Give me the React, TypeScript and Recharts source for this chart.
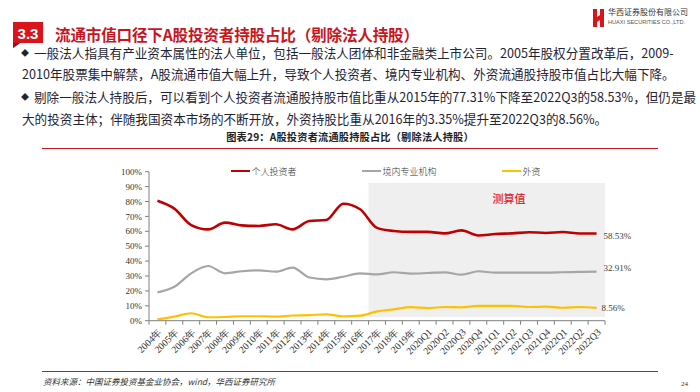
import React from 'react';
import { LineChart, Line, XAxis, YAxis, ReferenceArea, Legend } from 'recharts';

const categories = [
  '2004年', '2005年', '2006年', '2007年', '2008年', '2009年', '2010年', '2011年',
  '2012年', '2013年', '2014年', '2015年', '2016年', '2017年', '2018年', '2019年',
  '2020Q1', '2020Q2', '2020Q3', '2020Q4', '2021Q1', '2021Q2', '2021Q3', '2021Q4',
  '2022Q1', '2022Q2', '2022Q3',
];
const individualInvestors = [
  80.5, 75.2, 64.2, 61.3, 65.8, 64.0, 63.6, 64.7, 61.3, 66.9, 67.6, 78.5, 74.8,
  62.3, 60.2, 59.6, 59.6, 58.6, 60.6, 57.2, 58.2, 58.6, 59.4, 58.9, 59.5, 58.5, 58.53,
];
const domesticInstitutions = [
  19.0, 22.8, 31.8, 36.7, 31.8, 33.2, 33.8, 32.9, 35.6, 29.0, 27.8, 29.5, 31.8,
  31.1, 32.5, 31.6, 32.0, 32.5, 30.9, 33.2, 32.2, 32.2, 32.2, 32.2, 32.5, 32.8, 32.91,
];
const foreignCapital = [
  0.9, 2.7, 5.0, 2.3, 2.5, 3.0, 3.0, 2.7, 3.5, 3.7, 4.3, 2.9, 3.35,
  6.3, 7.6, 9.1, 8.5, 9.2, 9.0, 10.0, 10.0, 9.9, 9.2, 9.4, 8.7, 9.2, 8.56,
];
const seriesNames = ['个人投资者', '境内专业机构', '外资'];
const yTicks = [0, 10, 20, 30, 40, 50, 60, 70, 80, 90, 100];
const estimateStart = '2017年';
const estimateEnd = '2022Q3';
const estimateLabel = '测算值';

const data = categories.map((name, i) => ({
  name,
  individual: individualInvestors[i],
  domestic: domesticInstitutions[i],
  foreign: foreignCapital[i],
}));

const RED = '#c00000';
const GRAY = '#a6a6a6';
const GOLD = '#ffc000';
const AXIS = '#808080';
const SERIF = '"Liberation Serif", "Times New Roman", serif';
const CJK = '"Noto Sans CJK SC", "Noto Sans", sans-serif';
const TEXT = '#1f2433';

const CHART_W = 560;
const CHART_H = 230;
const MARGIN = { top: 21.7, right: 55, bottom: 19.3, left: 0 };
const Y_AXIS_W = 49;
const BAND = (CHART_W - MARGIN.left - MARGIN.right - Y_AXIS_W) / categories.length;

const XTick = (props: any) => {
  const { x, y, payload, index } = props;
  const isLast = index === categories.length - 1;
  const ax = x + 5;
  const ay = y + 12;
  return (
    <g>
      <line x1={x - BAND / 2} x2={x - BAND / 2} y1={y} y2={y + 4} stroke={AXIS} />
      {isLast && <line x1={x + BAND / 2} x2={x + BAND / 2} y1={y} y2={y + 4} stroke={AXIS} />}
      <text
        x={ax}
        y={ay}
        transform={`rotate(-45 ${ax} ${ay})`}
        textAnchor="end"
        fontSize={9.8}
        fontFamily={SERIF}
        fill="#333"
      >
        {payload.value}
      </text>
    </g>
  );
};

const makeEndLabel = (dx: number, dy: number) => (props: any) => {
  const { x, y, index, value } = props;
  if (index !== categories.length - 1) return null;
  return (
    <text x={x + dx} y={y + dy} fontSize={9} fontFamily={SERIF} fill="#404040">
      {`${Number(value).toFixed(2)}%`}
    </text>
  );
};

const LegendContent = (props: any) => {
  const { payload } = props;
  return (
    <div style={{ display: 'flex', gap: 65, alignItems: 'center' }}>
      {(payload || []).map((p: any) => (
        <div key={p.value} style={{ display: 'flex', alignItems: 'center' }}>
          <span style={{ display: 'inline-block', width: 19, height: 2.5, background: p.color, marginRight: 2 }} />
          <span style={{ fontSize: 9, fontFamily: CJK, color: '#333', fontWeight: 300 }}>{p.value}</span>
        </div>
      ))}
    </div>
  );
};

const EstimateLabel = (props: any) => {
  const vb = props.viewBox || {};
  return (
    <text
      x={vb.x + vb.width * 0.594}
      y={vb.y + 20}
      textAnchor="middle"
      fontSize={11}
      fontFamily={CJK}
      fontWeight={500}
      fill="#e0262b"
    >
      {estimateLabel}
    </text>
  );
};

export default function App() {
  return (
    <div
      style={{
        position: 'absolute',
        top: 0,
        left: 0,
        width: 700,
        height: 392,
        background: '#fff',
        overflow: 'hidden',
        fontFamily: CJK,
      }}
    >
      {/* section badge */}
      <svg style={{ position: 'absolute', left: 0, top: 0 }} width={60} height={60}>
        <polygon points="13,22 43,22 43,43 20,43 13,48" fill="#d9141b" />
        <polygon points="13,43 20,43 13,48" fill="#9c0e12" />
        <text x={28} y={38.5} textAnchor="middle" fontSize={15} fontWeight={700} fill="#fff" fontFamily='"Liberation Sans", Arial, sans-serif'>3.3</text>
      </svg>
      <div
        style={{
          position: 'absolute', left: 55, top: 23, fontSize: 15.6, fontWeight: 700,
          color: '#c9151e', whiteSpace: 'nowrap', lineHeight: '22px', letterSpacing: -0.2,
        }}
      >
        流通市值口径下A股投资者持股占比（剔除法人持股）
      </div>

      {/* logo */}
      <svg style={{ position: 'absolute', left: 590, top: 6 }} width={16} height={24}>
        <polygon points="3,3 7,3 7,11 10,9 10,3 14,3 14,21 10,21 10,14 7,16 7,21 3,21" fill="#d9141b" />
      </svg>
      <div style={{ position: 'absolute', left: 608, top: 7, fontSize: 8, color: '#333', whiteSpace: 'nowrap', lineHeight: '10px', fontFamily: CJK }}>
        华西证券股份有限公司
      </div>
      <div style={{ position: 'absolute', left: 608, top: 18, fontSize: 5.6, color: '#555', whiteSpace: 'nowrap', lineHeight: '8px', fontFamily: '"Liberation Sans", Arial, sans-serif' }}>
        HUAXI SECURITIES CO.,LTD.
      </div>

      {/* bullets */}
      {[
        { top: 44, left: 34, bullet: true, text: '一般法人指具有产业资本属性的法人单位，包括一般法人团体和非金融类上市公司。2005年股权分置改革后，2009-' },
        { top: 65, left: 22, bullet: false, text: '2010年股票集中解禁，A股流通市值大幅上升，导致个人投资者、境内专业机构、外资流通股持股市值占比大幅下降。' },
        { top: 88, left: 34, bullet: true, text: '剔除一般法人持股后，可以看到个人投资者流通股持股市值比重从2015年的77.31%下降至2022Q3的58.53%，但仍是最' },
        { top: 110, left: 22, bullet: false, text: '大的投资主体；伴随我国资本市场的不断开放，外资持股比重从2016年的3.35%提升至2022Q3的8.56%。' },
      ].map((l, i) => (
        <React.Fragment key={i}>
          {l.bullet && (
            <div style={{ position: 'absolute', left: 21, top: l.top, fontSize: 8, lineHeight: '18px', color: TEXT }}>◆</div>
          )}
          <div style={{ position: 'absolute', left: l.left, top: l.top, fontSize: 12.6, lineHeight: '18px', color: TEXT, whiteSpace: 'nowrap' }}>
            {l.text}
          </div>
        </React.Fragment>
      ))}

      {/* chart title */}
      <div
        style={{
          position: 'absolute', left: 42, width: 616, top: 130, textAlign: 'center', fontSize: 10.2,
          fontWeight: 700, color: '#222', whiteSpace: 'nowrap', lineHeight: '14px', letterSpacing: 0.2,
        }}
      >
        图表29：A股投资者流通股持股占比（剔除法人持股）
      </div>
      <div style={{ position: 'absolute', left: 42, width: 616, top: 147.5, height: 1.5, background: '#c8161d' }} />

      {/* chart */}
      <div style={{ position: 'absolute', left: 100, top: 150 }}>
        <LineChart width={CHART_W} height={CHART_H} data={data} margin={MARGIN}>
          <ReferenceArea
            xAxisId="cat"
            yAxisId="y"
            x1={estimateStart}
            x2={estimateEnd}
            y1={2.5}
            y2={92.5}
            fill="#efefef"
            fillOpacity={1}
            stroke="none"
            label={<EstimateLabel />}
            ifOverflow="visible"
          />
          <XAxis
            xAxisId="cat"
            dataKey="name"
            scale="band"
            interval={0}
            tickLine={false}
            tickSize={0}
            tickMargin={0}
            axisLine={{ stroke: AXIS }}
            tick={<XTick />}
            height={40}
          />
          <YAxis
            yAxisId="y"
            domain={[0, 100]}
            ticks={yTicks}
            tickFormatter={(v: number) => `${v}%`}
            width={Y_AXIS_W}
            tickSize={4}
            tickMargin={3}
            axisLine={{ stroke: AXIS }}
            tickLine={{ stroke: AXIS }}
            tick={{ fontSize: 9, fontFamily: SERIF, fill: '#333' }}
            interval={0}
          />
          <Legend
            layout="horizontal"
            verticalAlign="middle"
            align="center"
            wrapperStyle={{ top: 14.5, left: 130.5, width: 'auto' }}
            content={<LegendContent />}
          />
          <Line
            xAxisId="cat"
            yAxisId="y"
            dataKey="individual"
            name={seriesNames[0]}
            type="monotone"
            stroke={RED}
            strokeWidth={2.6}
            dot={false}
            activeDot={false}
            isAnimationActive={false}
            label={makeEndLabel(7, 6)}
          />
          <Line
            xAxisId="cat"
            yAxisId="y"
            dataKey="domestic"
            name={seriesNames[1]}
            type="monotone"
            stroke={GRAY}
            strokeWidth={2.2}
            dot={false}
            activeDot={false}
            isAnimationActive={false}
            label={makeEndLabel(7, -1)}
          />
          <Line
            xAxisId="cat"
            yAxisId="y"
            dataKey="foreign"
            name={seriesNames[2]}
            type="monotone"
            stroke={GOLD}
            strokeWidth={2.2}
            dot={false}
            activeDot={false}
            isAnimationActive={false}
            label={makeEndLabel(5, 3.5)}
          />
        </LineChart>
      </div>

      {/* footer */}
      <div style={{ position: 'absolute', left: 42, width: 616, top: 370.5, height: 1.5, background: '#c8161d' }} />
      <div
        style={{
          position: 'absolute', left: 43, top: 375, fontSize: 8.5, fontStyle: 'italic', color: '#333',
          whiteSpace: 'nowrap', lineHeight: '12px',
        }}
      >
        资料来源：中国证券投资基金业协会，wind，华西证券研究所
      </div>
      <div style={{ position: 'absolute', left: 681, top: 379, fontSize: 7, color: '#333', lineHeight: '10px', fontFamily: SERIF }}>
        24
      </div>
    </div>
  );
}
